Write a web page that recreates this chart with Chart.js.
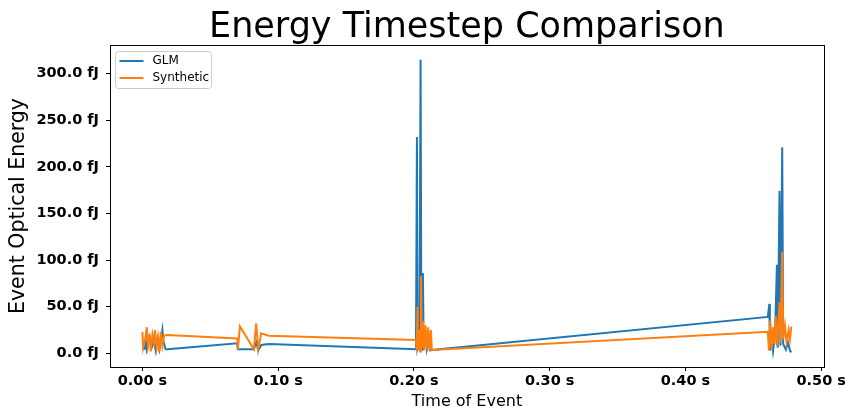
<!DOCTYPE html>
<html>
<head>
<meta charset="utf-8">
<title>Energy Timestep Comparison</title>
<script src="https://cdn.jsdelivr.net/npm/chart.js@4.4.1/dist/chart.umd.min.js"></script>
<style>
  html, body { margin: 0; padding: 0; background: #fff; }
  #wrap { width: 848px; height: 412px; }
</style>
</head>
<body>
<div id="wrap"><canvas id="energy-chart" width="848" height="412"></canvas></div>
<script>
/* ── DATA (time in s, energy in fJ) ────────────────────── */
const GLM_T = [
  0.0000, 0.0018, 0.0024, 0.0032, 0.0054, 0.0068, 0.0085, 0.0098, 0.0110, 0.0125,
  0.0135, 0.0147, 0.0155, 0.0170, 0.0184, 0.0699, 0.0703, 0.0821, 0.0838, 0.0853,
  0.0875, 0.0931, 0.2015, 0.2022, 0.2026, 0.2035, 0.2040, 0.2049, 0.2055, 0.2060,
  0.2066, 0.2072, 0.2085, 0.2095, 0.2110, 0.2120, 0.2132, 0.4607, 0.4618, 0.4622,
  0.4635, 0.4645, 0.4660, 0.4674, 0.4680, 0.4693, 0.4700, 0.4713, 0.4720, 0.4740,
  0.4755, 0.4770, 0.4780
];
const GLM_E = [
  4.6, 5, 14, 4, 16, 6, 13, 3, 15, 4,
  12, 25, 13, 4.3, 4.3, 10.7, 4.3, 4.3, 12, 3,
  9, 10, 4.3, 232, 6, 12, 3, 315, 10, 4,
  86, 5, 20, 4, 14, 3, 3.5, 39, 53, 3,
  15, 2, 20, 95, 6, 174, 8, 221, 10, 4,
  12, 3, 1
];
const SYN_T = [
  0.0000, 0.0005, 0.0024, 0.0032, 0.0041, 0.0054, 0.0061, 0.0074, 0.0085, 0.0093,
  0.0105, 0.0115, 0.0125, 0.0135, 0.0147, 0.0159, 0.0184, 0.0699, 0.0703, 0.0718,
  0.0821, 0.0838, 0.0853, 0.0875, 0.0931, 0.2015, 0.2020, 0.2026, 0.2032, 0.2040,
  0.2046, 0.2052, 0.2058, 0.2066, 0.2074, 0.2085, 0.2095, 0.2105, 0.2115, 0.2125,
  0.2132, 0.4607, 0.4615, 0.4625, 0.4635, 0.4645, 0.4655, 0.4665, 0.4674, 0.4684,
  0.4693, 0.4700, 0.4713, 0.4720, 0.4733, 0.4745, 0.4760, 0.4770, 0.4780
];
const SYN_E = [
  23, 6, 18, 28, 8, 21, 2, 20, 11, 25,
  6, 17, 2, 23, 8, 19, 19.6, 16, 4, 29,
  4.3, 32, 4, 21.4, 18.9, 14.3, 3, 50, 4, 25,
  2, 83, 6, 35, 3, 30, 4, 28, 3, 25,
  3.5, 23, 3, 35, 5, 28, 10, 40, 8, 30,
  55, 12, 109, 15, 30, 12, 25, 15, 28.5
];
const X_TICKS = [0.0, 0.1, 0.2, 0.3, 0.4, 0.5];
const Y_TICKS = [0, 50, 100, 150, 200, 250, 300];

const FONT = "'DejaVu Sans', sans-serif";
const BLUE = '#1f77b4';
const ORANGE = '#ff7f0e';
const LINE_W = 2;

/* matplotlib style autoscale: 5% margin each side */
function padRange(a, b) {
  const lo = Math.min(...a, ...b), hi = Math.max(...a, ...b);
  const m = (hi - lo) * 0.05;
  return [lo - m, hi + m];
}
const [xMin, xMax] = padRange(GLM_T, SYN_T);
const [yMin, yMax] = padRange(GLM_E, SYN_E);

const toPoints = (ts, es) => ts.map((t, i) => ({ x: t, y: es[i] }));

/* ── PLUGIN: title, frame, legend ──────────────────────── */
const decor = {
  id: 'decor',
  afterDraw(chart) {
    const { ctx, chartArea: a } = chart;
    ctx.save();

    // full frame (top + right spines too)
    ctx.strokeStyle = '#000';
    ctx.lineWidth = 1;
    ctx.strokeRect(Math.round(a.left) + 0.5, Math.round(a.top) + 0.5,
      Math.round(a.right - a.left), Math.round(a.bottom - a.top));

    // title
    ctx.fillStyle = '#000';
    ctx.font = '35px ' + FONT;
    ctx.textAlign = 'center';
    ctx.textBaseline = 'alphabetic';
    ctx.fillText('Energy Timestep Comparison', (a.left + a.right) / 2, 37);

    // legend box
    const lx = a.left + 5.5, ly = a.top + 6.5, lw = 96, lh = 37;
    ctx.beginPath();
    ctx.roundRect(lx, ly, lw, lh, 3);
    ctx.fillStyle = 'rgba(255,255,255,0.8)';
    ctx.fill();
    ctx.strokeStyle = '#cccccc';
    ctx.stroke();

    const items = [['GLM', BLUE], ['Synthetic', ORANGE]];
    ctx.font = '12px ' + FONT;
    ctx.textAlign = 'left';
    ctx.textBaseline = 'middle';
    items.forEach(([label, col], i) => {
      const y = ly + 9.5 + i * 17;
      ctx.strokeStyle = col;
      ctx.lineWidth = LINE_W;
      ctx.beginPath();
      ctx.moveTo(lx + 4, y);
      ctx.lineTo(lx + 28, y);
      ctx.stroke();
      ctx.fillStyle = '#000';
      ctx.fillText(label, lx + 37, y);
    });
    ctx.restore();
  }
};

/* ── CHART ─────────────────────────────────────────────── */
Chart.defaults.font.family = FONT;
Chart.defaults.color = '#000';

new Chart(document.getElementById('energy-chart'), {
  type: 'scatter',
  data: {
    datasets: [
      {
        label: 'GLM',
        data: toPoints(GLM_T, GLM_E),
        showLine: true,
        borderColor: BLUE,
        borderWidth: LINE_W,
        pointRadius: 0,
        tension: 0,
        order: 1,
      },
      {
        label: 'Synthetic',
        data: toPoints(SYN_T, SYN_E),
        showLine: true,
        borderColor: ORANGE,
        borderWidth: LINE_W,
        pointRadius: 0,
        tension: 0,
        order: 0,
      },
    ],
  },
  options: {
    responsive: false,
    animation: false,
    layout: { padding: { top: 45, right: 24, bottom: 0, left: 0 } },
    plugins: {
      legend: { display: false },
      tooltip: { enabled: false },
      title: { display: false },
    },
    scales: {
      x: {
        type: 'linear',
        min: xMin,
        max: xMax,
        afterBuildTicks: s => { s.ticks = X_TICKS.map(v => ({ value: v })); },
        afterFit: s => { s.height = 45; },
        grid: { drawOnChartArea: false, drawTicks: true, tickLength: 4, color: '#000' },
        border: { display: true, color: '#000', width: 1 },
        ticks: {
          padding: 2,
          font: { size: 14.5, weight: 'bold' },
          maxRotation: 0,
          callback: v => v.toFixed(2) + ' s',
        },
        title: {
          display: true,
          text: 'Time of Event',
          font: { size: 16 },
          padding: { top: 0, bottom: 1 },
        },
      },
      y: {
        type: 'linear',
        min: yMin,
        max: yMax,
        afterBuildTicks: s => { s.ticks = Y_TICKS.map(v => ({ value: v })); },
        afterFit: s => { s.width = 110; },
        grid: { drawOnChartArea: false, drawTicks: true, tickLength: 4, color: '#000' },
        border: { display: true, color: '#000', width: 1 },
        ticks: {
          padding: 7,
          font: { size: 14.5, weight: 'bold' },
          callback: v => v.toFixed(1) + ' fJ',
        },
        title: {
          display: true,
          text: 'Event Optical Energy',
          font: { size: 20.5 },
          padding: { top: 6, bottom: 0 },
        },
      },
    },
  },
  plugins: [decor],
});
</script>
</body>
</html>
